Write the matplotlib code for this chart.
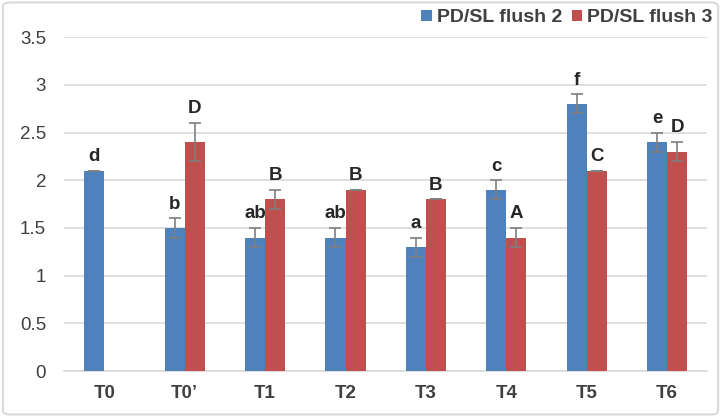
import numpy as np
import matplotlib.pyplot as plt
from matplotlib.patches import FancyBboxPatch

plt.rcParams['font.family'] = ['Liberation Sans', 'DejaVu Sans']

treatments = ["T0", "T0\u2019", "T1", "T2", "T3", "T4", "T5", "T6"]
flush2 = [2.1, 1.5, 1.4, 1.4, 1.3, 1.9, 2.8, 2.4]
flush3 = [np.nan, 2.4, 1.8, 1.9, 1.8, 1.4, 2.1, 2.3]
err2 = [0.0, 0.1, 0.1, 0.1, 0.1, 0.1, 0.1, 0.1]
err3 = [0.0, 0.2, 0.1, 0.0, 0.0, 0.1, 0.0, 0.1]
letters2 = ["d", "b", "ab", "ab", "a", "c", "f", "e"]
letters3 = ["", "D", "B", "B", "B", "A", "C", "D"]

blue = "#4F81BD"
red = "#C0504D"

fig = plt.figure(figsize=(7.21, 4.17), dpi=100)
ax = fig.add_axes([0.089, 0.110, 0.892, 0.801])

x = np.arange(len(treatments))
w = 0.25
ekw = dict(ecolor="#7f7f7f", elinewidth=1.2, capsize=4, capthick=1.2)
ax.bar(x - w / 2, flush2, w, color=blue, yerr=err2, error_kw=ekw, label="PD/SL flush 2", zorder=3)
ax.bar(x + w / 2, flush3, w, color=red, yerr=err3, error_kw=ekw, label="PD/SL flush 3", zorder=3)

for i in range(len(treatments)):
    ax.text(x[i] - w / 2, flush2[i] + err2[i] + 0.06, letters2[i], ha="center", va="bottom",
            fontsize=13.5, fontweight="bold", color="#262626")
    if letters3[i]:
        ax.text(x[i] + w / 2, flush3[i] + err3[i] + 0.06, letters3[i], ha="center", va="bottom",
                fontsize=13.5, fontweight="bold", color="#262626")

ax.set_xlim(-0.5, len(treatments) - 0.5)
ax.set_ylim(0, 3.5)
ax.set_yticks(np.arange(0, 3.51, 0.5))
ax.set_yticklabels(["0", "0.5", "1", "1.5", "2", "2.5", "3", "3.5"])
ax.set_xticks(x)
ax.set_xticklabels(treatments, fontweight="bold")
ax.tick_params(axis="y", length=0, labelsize=13.5, labelcolor="#404040", pad=13)
ax.tick_params(axis="x", length=0, labelsize=13.5, labelcolor="#404040", pad=10)
ax.yaxis.grid(True, color="#d9d9d9", linewidth=1.2, zorder=0)
ax.set_axisbelow(True)
for s in ["top", "right", "left"]:
    ax.spines[s].set_visible(False)
ax.spines["bottom"].set_color("#d9d9d9")
ax.spines["bottom"].set_linewidth(1.2)

leg = ax.legend(loc="center right", bbox_to_anchor=(1.008, 1.058), ncol=2, frameon=False,
                handlelength=0.55, handleheight=0.55, handletextpad=0.25, columnspacing=0.5,
                borderaxespad=0, borderpad=0, prop=dict(weight="bold", size=14))
for t in leg.get_texts():
    t.set_color("#404040")

fig.patches.append(FancyBboxPatch((0.004, 0.006), 0.992, 0.988, boxstyle="round,pad=0,rounding_size=0.01",
                                  transform=fig.transFigure, facecolor="none", edgecolor="#d9d9d9",
                                  linewidth=1.5))

fig.savefig("out.png", dpi=100)
